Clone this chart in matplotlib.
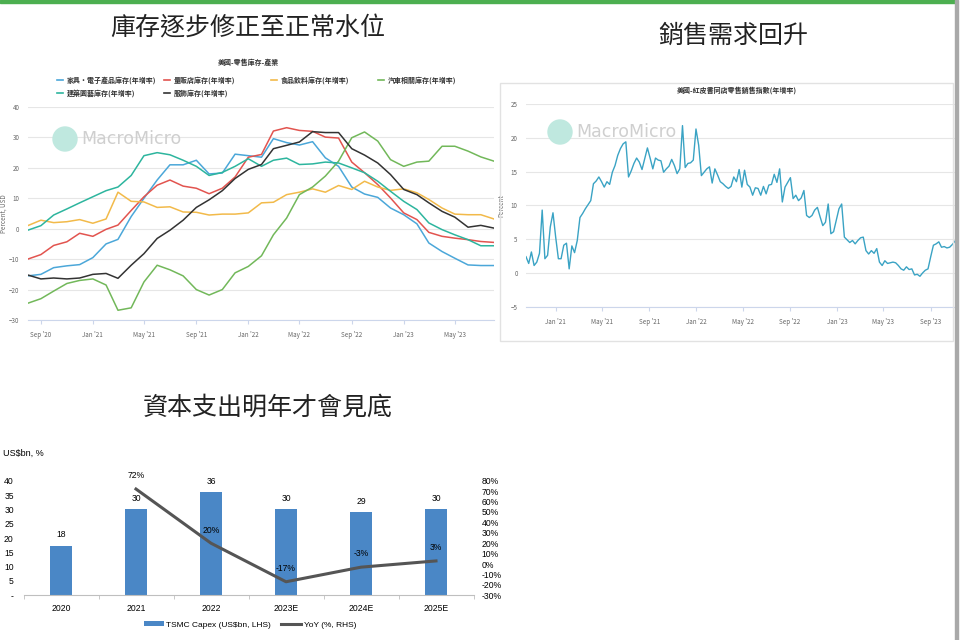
import matplotlib
matplotlib.use("Agg")
import matplotlib.pyplot as plt
import matplotlib.patches as mpatches
import matplotlib.lines as mlines
import numpy as np
import pandas as pd

W, H = 960, 640

# ---- US retail inventories by industry, YoY %, monthly Aug 2020 - Aug 2023
inv_months = pd.date_range("2020-08-01", periods=37, freq="MS")
furniture = [-15.5, -15, -12.8, -12.2, -11.8, -9.5, -5, -3.5, 4, 10, 16, 21, 21,
             22.5, 18, 18.3, 24.5, 24, 23.5, 29.6, 28.3, 27.5, 28.6, 23.3, 20.5,
             13.7, 11.4, 10.3, 6.8, 4.6, 1.6, -4.7, -7.5, -9.7, -11.9, -12.1, -12.1]
general_merch = [-10, -8.5, -5.5, -4.3, -1.5, -2.5, -0.2, 1.2, 6, 10.5, 14.3, 16, 14,
                 13.3, 11.5, 13.3, 17, 23.5, 24.4, 32.1, 33.2, 32.3, 32.0, 30.1, 29.8,
                 21.9, 18.4, 14.5, 10.1, 5.2, 3.0, -1.2, -2.5, -3.1, -3.6, -4.2, -4.5]
food_bev = [1, 2.8, 2, 2.3, 3, 1.8, 3.2, 12, 9, 8.8, 7, 7.2, 5.5, 5.4, 4.5, 4.8, 4.8,
            5.2, 8.5, 8.7, 11.2, 12.0, 13.1, 12.0, 14.2, 12.9, 15.6, 13.7, 12.6, 13.1,
            11.8, 9.6, 6.8, 4.8, 4.6, 4.6, 3.2]
auto = [-24.5, -23, -20.5, -18, -17, -16.5, -18.5, -26.8, -26, -17.5, -12, -13.5,
        -15.5, -20, -21.8, -20, -14.5, -12.4, -8.9, -2.0, 3.5, 11.2, 13.7, 17.3, 22.2,
        29.9, 31.8, 28.8, 22.7, 20.5, 21.9, 22.2, 27.1, 27.1, 25.5, 23.6, 22.2]
building = [-0.5, 1, 4.5, 6.5, 8.5, 10.5, 12.5, 13.7, 17.5, 24, 25, 24.3, 22.5, 20.5,
            17.5, 18.5, 20.5, 23, 20.5, 22.5, 23.2, 21.1, 21.3, 21.9, 21.6, 20.0, 18.4,
            15.6, 12.3, 9.0, 6.3, 1.9, -0.3, -2.0, -3.6, -5.6, -5.6]
apparel = [-15.2, -16.5, -16.2, -16.5, -16.2, -15, -14.7, -16.3, -12, -8.2, -3.2, -0.5,
           2.8, 7, 9.5, 12.5, 16.5, 19.5, 21.1, 26.3, 27.4, 28.5, 31.9, 31.6, 31.6,
           26.3, 24.2, 21.6, 17.8, 12.9, 11.2, 8.5, 5.7, 3.8, 0.5, 1.1, 0.2]
inv_names = ["家具・電子產品庫存(年增率)", "量販店庫存(年增率)", "食品飲料庫存(年增率)",
             "汽車相關庫存(年增率)", "建築園藝庫存(年增率)", "服飾庫存(年增率)"]
inv_colors = ["#4ba7d9", "#e2544f", "#f2ba4a", "#72b85a", "#2db59e", "#333333"]
inv_ticks = ["2020-09-01", "2021-01-01", "2021-05-01", "2021-09-01", "2022-01-01",
             "2022-05-01", "2022-09-01", "2023-01-01", "2023-05-01"]
inv_ticklabels = ["Sep '20", "Jan '21", "May '21", "Sep '21", "Jan '22",
                  "May '22", "Sep '22", "Jan '23", "May '23"]

# ---- US Redbook same-store retail sales, YoY %, weekly
redbook = [2.4, 1.4, 3.1, 1.1, 1.6, 2.9, 9.3, 2.1, 2.6, 6.8,
           8.9, 5.3, 2.1, 2.1, 4.1, 4.4, 0.6, 4.0, 3.0, 4.8,
           8.2, 8.8, 9.5, 10.1, 10.7, 13.2, 13.6, 14.2, 13.5, 12.7,
           13.5, 13.1, 14.9, 15.9, 17.4, 18.4, 19.1, 19.4, 14.2, 15.1,
           16.2, 17.0, 16.4, 15.3, 16.9, 18.5, 17.0, 15.4, 17.0, 16.7,
           16.6, 14.9, 15.4, 15.8, 16.8, 15.9, 14.7, 15.4, 21.8, 15.6,
           16.2, 16.3, 16.7, 21.3, 18.9, 14.4, 14.9, 15.4, 15.7, 13.3,
           15.4, 14.5, 13.5, 13.2, 12.8, 12.5, 12.8, 14.2, 13.5, 15.3,
           12.7, 15.2, 13.1, 12.7, 11.5, 12.6, 12.5, 11.5, 12.8, 11.7,
           13.0, 13.1, 14.6, 13.4, 15.4, 10.5, 12.7, 13.4, 14.1, 11.0,
           11.5, 10.7, 11.1, 12.2, 8.5, 8.2, 8.5, 9.3, 9.7, 8.3,
           7.0, 7.5, 10.2, 5.8, 6.1, 7.8, 9.5, 10.2, 5.3, 4.9,
           4.5, 4.8, 4.3, 4.8, 5.2, 5.3, 3.3, 2.8, 3.3, 2.9,
           3.6, 1.6, 1.1, 1.8, 1.4, 1.5, 1.6, 1.5, 1.1, 0.6,
           0.4, 0.9, 0.5, 0.6, -0.3, -0.2, -0.5, 0.0, 0.4, 0.6,
           2.4, 4.1, 4.3, 4.6, 3.8, 3.9, 3.7, 3.8, 4.2, 4.7]
redbook_weeks = pd.date_range("2020-10-16", periods=len(redbook), freq="7D")
rb_ticks = ["2021-01-01", "2021-05-01", "2021-09-01", "2022-01-01", "2022-05-01",
            "2022-09-01", "2023-01-01", "2023-05-01", "2023-09-01"]
rb_ticklabels = ["Jan '21", "May '21", "Sep '21", "Jan '22", "May '22",
                 "Sep '22", "Jan '23", "May '23", "Sep '23"]

# ---- TSMC capex
years = ["2020", "2021", "2022", "2023E", "2024E", "2025E"]
capex = [17.2, 30.0, 36.0, 30.0, 29.0, 30.0]
capex_labels = ["18", "30", "36", "30", "29", "30"]
yoy = [np.nan, 72, 20, -17, -3, 3]
yoy_labels = ["", "72%", "20%", "-17%", "-3%", "3%"]

plt.rcParams["font.family"] = ["Noto Sans CJK TC", "DejaVu Sans"]
narrow = ["Liberation Sans Narrow", "Liberation Sans", "DejaVu Sans"]

fig = plt.figure(figsize=(W / 100, H / 100), dpi=100)
fig.patch.set_facecolor("white")


def px_axes(x0, y0, x1, y1):
    return fig.add_axes([x0 / W, 1 - y1 / H, (x1 - x0) / W, (y1 - y0) / H])


def fy(y):
    return 1 - y / H


def hc_style(ax):
    for s in ["top", "right", "left"]:
        ax.spines[s].set_visible(False)
    ax.spines["bottom"].set_color("#ccd6eb")
    ax.spines["bottom"].set_linewidth(0.8)
    ax.grid(axis="y", color="#e6e6e6", linewidth=0.8)
    ax.set_axisbelow(True)
    ax.tick_params(axis="y", length=0, labelsize=4.5, labelcolor="#666666", pad=6)
    ax.tick_params(axis="x", length=3, color="#ccd6eb", labelsize=4.5,
                   labelcolor="#666666", pad=5)


def watermark(x, y):
    fig.patches.append(mpatches.Ellipse((x / W, fy(y)), 24 / W, 24 / H,
                                        transform=fig.transFigure,
                                        color="#bfe8df", zorder=0))
    fig.text((x + 16) / W, fy(y), "MacroMicro", fontsize=12.5, color="#cfcfcf",
             va="center", ha="left", family="DejaVu Sans", zorder=0)


# decorations
fig.patches.append(mpatches.Rectangle((0, fy(3)), 955 / W, 3 / H,
                                      transform=fig.transFigure, color="#4caf50"))
fig.patches.append(mpatches.Rectangle((955 / W, 0), 3 / W, 1,
                                      transform=fig.transFigure, color="#a9a9a9"))
fig.patches.append(mpatches.Rectangle((500 / W, fy(341)), 453 / W, 258 / H,
                                      transform=fig.transFigure, fill=False,
                                      edgecolor="#e2e2e2", linewidth=1))

# ---------------- panel 1: inventories
fig.text(248 / W, fy(28), "庫存逐步修正至正常水位", fontsize=18, ha="center",
         va="center", color="#222222", weight="light")
fig.text(248 / W, fy(62), "美國-零售庫存-產業", fontsize=5, ha="center",
         va="center", color="#333333", weight="bold")

ax1 = px_axes(27.7, 107, 494, 320)
hc_style(ax1)
series = [furniture, general_merch, food_bev, auto, building, apparel]
for vals, c in zip(series, inv_colors):
    ax1.plot(inv_months, vals, color=c, linewidth=1.1)
ax1.set_ylim(-30, 40)
ax1.set_yticks(np.arange(-30, 41, 10))
ax1.set_xlim(inv_months[0], inv_months[-1])
ax1.set_xticks(pd.to_datetime(inv_ticks))
ax1.set_xticklabels(inv_ticklabels)
ax1.set_ylabel("Percent, USD", fontsize=4.5, color="#666666")
ax1.yaxis.set_label_coords(-0.044, 0.5)
watermark(65, 139)

for i, (name, c) in enumerate(zip(inv_names, inv_colors)):
    lx = 57 + 107 * (i % 4)
    ly = 80 + 13 * (i // 4)
    fig.lines.append(mlines.Line2D([lx / W, (lx + 6) / W], [fy(ly), fy(ly)],
                                   color=c, linewidth=1.2,
                                   transform=fig.transFigure))
    fig.text((lx + 10) / W, fy(ly), name, fontsize=5, va="center", ha="left",
             color="#333333", weight="bold")

# ---------------- panel 2: redbook
fig.text(733 / W, fy(36), "銷售需求回升", fontsize=18, ha="center",
         va="center", color="#222222", weight="light")
fig.text(737 / W, fy(90), "美國-紅皮書同店零售銷售指數(年增率)", fontsize=5,
         ha="center", va="center", color="#333333", weight="bold")

ax2 = px_axes(526, 104, 955, 306.7)
hc_style(ax2)
ax2.plot(redbook_weeks, redbook, color="#3aa3c4", linewidth=1.0)
ax2.set_ylim(-5, 25)
ax2.set_yticks(np.arange(-5, 26, 5))
ax2.set_xlim(redbook_weeks[0], redbook_weeks[-1])
ax2.set_xticks(pd.to_datetime(rb_ticks))
ax2.set_xticklabels(rb_ticklabels)
ax2.set_ylabel("Percent", fontsize=4.5, color="#666666")
ax2.yaxis.set_label_coords(-0.049, 0.5)
watermark(560, 132)

# ---------------- panel 3: TSMC capex
fig.text(268 / W, fy(408), "資本支出明年才會見底", fontsize=18, ha="center",
         va="center", color="#222222", weight="light")
fig.text(3 / W, fy(453), "US$bn, %", fontsize=6.5, ha="left", va="center",
         family=narrow)

ax3 = px_axes(23.5, 480.7, 473.5, 595.3)
x = np.arange(len(years))
ax3.bar(x, capex, width=0.3, color="#4a87c6", label="TSMC Capex (US$bn, LHS)")
ax3.set_xlim(-0.5, len(years) - 0.5)
ax3.set_ylim(0, 40)
ax3.set_yticks(np.arange(0, 41, 5))
ax3.set_yticklabels(["-"] + [str(v) for v in range(5, 41, 5)])
for s in ["top", "right", "left"]:
    ax3.spines[s].set_visible(False)
ax3.spines["bottom"].set_color("#bfbfbf")
ax3.set_xticks(x)
ax3.set_xticklabels(years)
ax3.set_xticks(np.arange(-0.5, len(years), 1), minor=True)
ax3.tick_params(axis="x", which="major", length=0, pad=6)
ax3.tick_params(axis="x", which="minor", length=3, color="#bfbfbf")
ax3.tick_params(axis="y", length=0, pad=7)
for lab in ax3.get_xticklabels() + ax3.get_yticklabels():
    lab.set_family(narrow)
    lab.set_fontsize(6.2)
for xi, v, t in zip(x, capex, capex_labels):
    ax3.annotate(t, (xi, v), xytext=(0, 8), textcoords="offset points",
                 ha="center", va="center", fontsize=6.2, family=narrow)

ax3r = ax3.twinx()
ax3r.plot(x, yoy, color="#555555", linewidth=2.2, label="YoY (%, RHS)")
ax3r.set_ylim(-30, 80)
ax3r.set_yticks(np.arange(-30, 81, 10))
ax3r.set_yticklabels([f"{v}%" for v in range(-30, 81, 10)])
for s in ["top", "right", "left", "bottom"]:
    ax3r.spines[s].set_visible(False)
ax3r.tick_params(axis="y", length=0, pad=6)
for lab in ax3r.get_yticklabels():
    lab.set_family(narrow)
    lab.set_fontsize(6.2)
for xi, v, t in zip(x, yoy, yoy_labels):
    if t:
        ax3r.annotate(t, (xi, v), xytext=(0, 9.5), textcoords="offset points",
                      ha="center", va="center", fontsize=6.2, family=narrow)

h1, l1 = ax3.get_legend_handles_labels()
h2, l2 = ax3r.get_legend_handles_labels()
fig.legend(h1 + h2, l1 + l2, loc="center", bbox_to_anchor=(250 / W, fy(625)),
           ncol=2, frameon=False, prop={"family": narrow, "size": 6},
           handlelength=2.4, handleheight=0.5, columnspacing=1.2, handletextpad=0.3)

fig.savefig("out.png", dpi=100)
